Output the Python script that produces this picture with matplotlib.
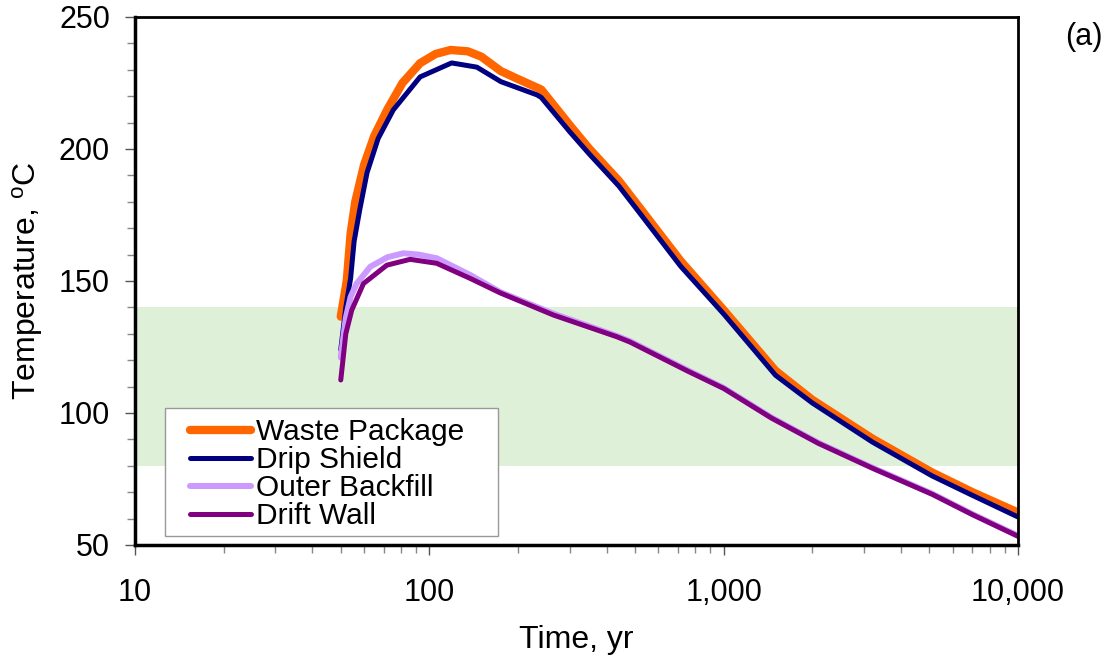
""" Drift temperatures vs time (log scale). """

import matplotlib.pyplot as plt
from matplotlib.patches import Rectangle
from matplotlib.ticker import FuncFormatter, MultipleLocator, LogLocator, NullFormatter

plt.rcParams["font.family"] = ["Liberation Sans", "DejaVu Sans"]
plt.rcParams["mathtext.fontset"] = "custom"
plt.rcParams["mathtext.rm"] = "Liberation Sans"

# Waste Package
t_wp = [50, 52.4, 54, 56, 60, 65, 72, 81, 93, 105, 118, 135, 150, 175, 200, 240,
        300, 350, 440, 500, 715, 1000, 1500, 2000, 3200, 5100, 7000, 10000]
T_wp = [136.5, 150, 168, 180, 194, 205, 215, 225, 232.5, 236, 237.5, 237, 235, 229.5, 226.5, 222.5,
        209, 200, 188, 180, 157.5, 139, 116, 105, 90.3, 77.5, 70, 62.3]

# Drip Shield
t_ds = [50, 52, 54, 55.5, 58, 61.4, 67, 75.4, 93, 119, 145, 175, 232, 240,
        300, 350, 440, 500, 715, 1000, 1500, 2000, 3200, 5100, 7000, 10000]
T_ds = [124, 140, 151, 165, 177, 191, 204, 214.8, 227.3, 232.6, 231, 225.5, 220.5, 219.5,
        206.5, 198, 186, 178, 155.5, 137.5, 114.3, 103.8, 89, 76.2, 68.8, 60.6]

# Outer Backfill
t_ob = [50, 52, 54, 56.6, 63, 72, 81.6, 92, 106, 137.5, 174, 264, 433, 480,
        760, 1000, 1452, 2098, 3229, 5113, 7000, 10000]
T_ob = [121, 136, 144, 149, 155.4, 159, 160.5, 160, 158.6, 152.3, 145.8, 137.6, 129.2, 127.2,
        116, 109.5, 98.3, 88.7, 79.1, 69.4, 61.7, 53.5]

# Drift Wall
t_dw = [50, 52, 54.5, 59.7, 71.7, 86, 105.9, 137.5, 174, 264, 433, 480,
        760, 1000, 1452, 2098, 3229, 5113, 7000, 10000]
T_dw = [112.5, 130, 139, 149, 156, 158.2, 156.7, 151, 145.5, 137.1, 128.9, 126.9,
        115.7, 109.3, 98.1, 88.5, 78.9, 69.2, 61.5, 53.3]

band_low, band_high = 80, 140


def main(output_file):
    fig, ax = plt.subplots(figsize=(11.17, 6.61), dpi=100)
    fig.subplots_adjust(left=0.1209, right=0.9114, bottom=0.1755, top=0.9743)

    ax.axhspan(band_low, band_high, color="#DFF0D8", zorder=0, lw=0)

    ax.plot(t_wp, T_wp, color="#FF6600", lw=6.0, label="Waste Package", solid_capstyle="round")
    ax.plot(t_ds, T_ds, color="#000080", lw=3.6, label="Drip Shield", solid_capstyle="round")
    ax.plot(t_ob, T_ob, color="#CC99FF", lw=4.3, label="Outer Backfill", solid_capstyle="round")
    ax.plot(t_dw, T_dw, color="#800080", lw=3.6, label="Drift Wall", solid_capstyle="round")

    ax.set_xscale("log")
    ax.set_xlim(10, 10000)
    ax.set_ylim(50, 250)

    ax.yaxis.set_major_locator(MultipleLocator(50))
    ax.yaxis.set_minor_locator(MultipleLocator(10))
    ax.xaxis.set_major_locator(LogLocator(base=10))
    ax.xaxis.set_minor_locator(LogLocator(base=10, subs=range(2, 10)))
    ax.xaxis.set_minor_formatter(NullFormatter())
    ax.xaxis.set_major_formatter(FuncFormatter(lambda v, p: f"{v:,.0f}"))

    ax.tick_params(axis="both", which="major", direction="out", length=7, width=1,
                   color="#555555", labelsize=22)
    ax.tick_params(axis="both", which="minor", direction="out", length=6, width=1,
                   color="#888888")
    ax.tick_params(axis="y", which="major", pad=11)
    ax.tick_params(axis="x", which="major", pad=17)

    for side in ["left", "bottom"]:
        ax.spines[side].set_linewidth(2.5)
    for side in ["top", "right"]:
        ax.spines[side].set_linewidth(2.0)

    ax.set_xlabel("Time, yr", fontsize=23, labelpad=12)
    ax.set_ylabel(r"Temperature, $\mathregular{^{o}C}$", fontsize=23, labelpad=10)

    # legend box drawn separately so its size matches the original
    box = Rectangle((0.034, 0.017), 0.377, 0.242, transform=ax.transAxes,
                    facecolor="white", edgecolor="#999999", lw=1.0, zorder=4)
    ax.add_patch(box)
    leg = ax.legend(loc="upper left", bbox_to_anchor=(0.0623, 0.24),
                    fontsize=21.5, frameon=False, handlelength=2.05,
                    handletextpad=0.17, labelspacing=0.0, borderpad=0,
                    borderaxespad=0)
    leg.set_zorder(5)

    fig.text(1084 / 1117, 1 - 37 / 661, "(a)", fontsize=22, ha="center", va="center")

    plt.savefig(output_file, dpi=100)


if __name__ == "__main__":
    main("out.png")
